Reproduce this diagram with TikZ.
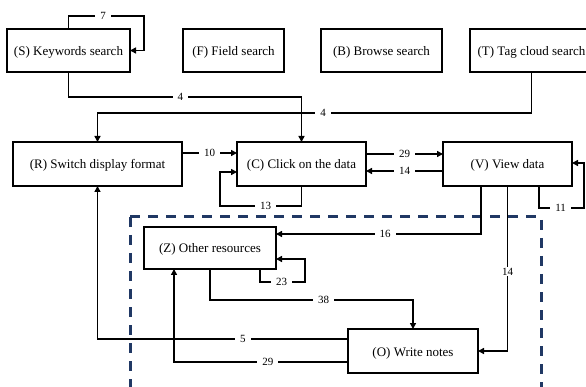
\documentclass[tikz,border=0pt]{standalone}
\usepackage{fontspec}
\setmainfont{Liberation Serif}
\usetikzlibrary{arrows.meta}
\definecolor{groupblue}{RGB}{32,56,100}
\begin{document}
\begin{tikzpicture}[x=1pt,y=-1pt,
  box/.style={draw, line width=2.2pt, inner sep=0pt, outer sep=0pt,
    text height=13pt, text depth=3pt, font=\fontsize{13}{15}\selectfont},
  conn/.style={line width=1.8pt, -{Triangle[length=6pt,width=6pt]}},
  lbl/.style={fill=white, inner xsep=5pt, inner ysep=1pt,
    font=\fontsize{11}{13}\selectfont},
  group/.style={draw=groupblue, line width=3pt, dash pattern=on 10pt off 8pt}]

\useasboundingbox (0,0) rectangle (586,387);
\clip (0,0) rectangle (586,387);

% search entry points
\node[box, minimum width=123pt, minimum height=43pt] (S) at (68.5,50.5) {(S) Keywords search};
\node[box, minimum width=101pt, minimum height=43pt] (F) at (233.5,50.5) {(F) Field search};
\node[box, minimum width=121pt, minimum height=43pt] (B) at (381.5,50.5) {(B) Browse search};
\node[box, minimum width=123pt, minimum height=43pt] (T) at (531.5,50.5) {(T) Tag cloud search};

% main row
\node[box, minimum width=169pt, minimum height=44pt] (R) at (97.5,164) {(R) Switch display format};
\node[box, minimum width=129pt, minimum height=44pt] (C) at (301.5,164) {(C) Click on the data};
\node[box, minimum width=129pt, minimum height=44pt] (V) at (507.5,164) {(V) View data};

% grouped activities
\draw[group] (130,217) -- (541,217) -- (541,400);
\draw[group] (130,217) -- (130,400);
\node[box, minimum width=132pt, minimum height=42pt] (Z) at (210,248) {(Z) Other resources};
\node[box, minimum width=130pt, minimum height=44pt] (O) at (413,351) {(O) Write notes};

% transitions
\draw[conn] (S.north) |- (144,16) node[lbl, pos=0.73] (l7) {7} |- (S.east);
\draw[conn] (S.south) |- (C.north |- 0,97) node[lbl, pos=0.74] (l4a) {4} -- (C.north);
\draw[conn] (T.south) |- (R.north |- 0,113) node[lbl, pos=0.74] (l4b) {4} -- (R.north);
\draw[conn] (R.east |- 0,153) -- (C.west |- 0,153) node[lbl, midway] (l10) {10};
\draw[conn] (C.south) |- (220,206) node[lbl, pos=0.72] (l13) {13} |- (C.west |- 0,172);
\draw[conn] (C.east |- 0,154) -- (V.west |- 0,154) node[lbl, midway] (l29a) {29};
\draw[conn] (V.west |- 0,171) -- (C.east |- 0,171) node[lbl, midway] (l14a) {14};
\draw[conn] (V.south -| 539,0) |- (584,208) node[lbl, pos=0.74] (l11) {11} |- (V.east |- 0,163);
\draw[conn] (V.south -| 481,0) |- (Z.east |- 0,234) node[lbl, pos=0.734] (l16) {16};
\draw[conn] (Z.south -| 260,0) |- (305,282) node[lbl, pos=0.74] (l23) {23} |- (Z.east |- 0,259);
\draw[conn] (Z.south -| 210,0) |- (O.north |- 0,300) node[lbl, pos=0.78] (l38) {38} -- (O.north);
\draw[conn] (V.south) |- (O.east |- 0,351) node[lbl, pos=0.26] (l14b) {14};
\draw[conn] (O.west |- 0,339) -| (R.south) node[lbl, pos=0.21] (l5) {5};
\draw[conn] (O.west |- 0,362) -| (Z.south -| 174,0) node[lbl, pos=0.23] (l29b) {29};
\end{tikzpicture}
\end{document}
